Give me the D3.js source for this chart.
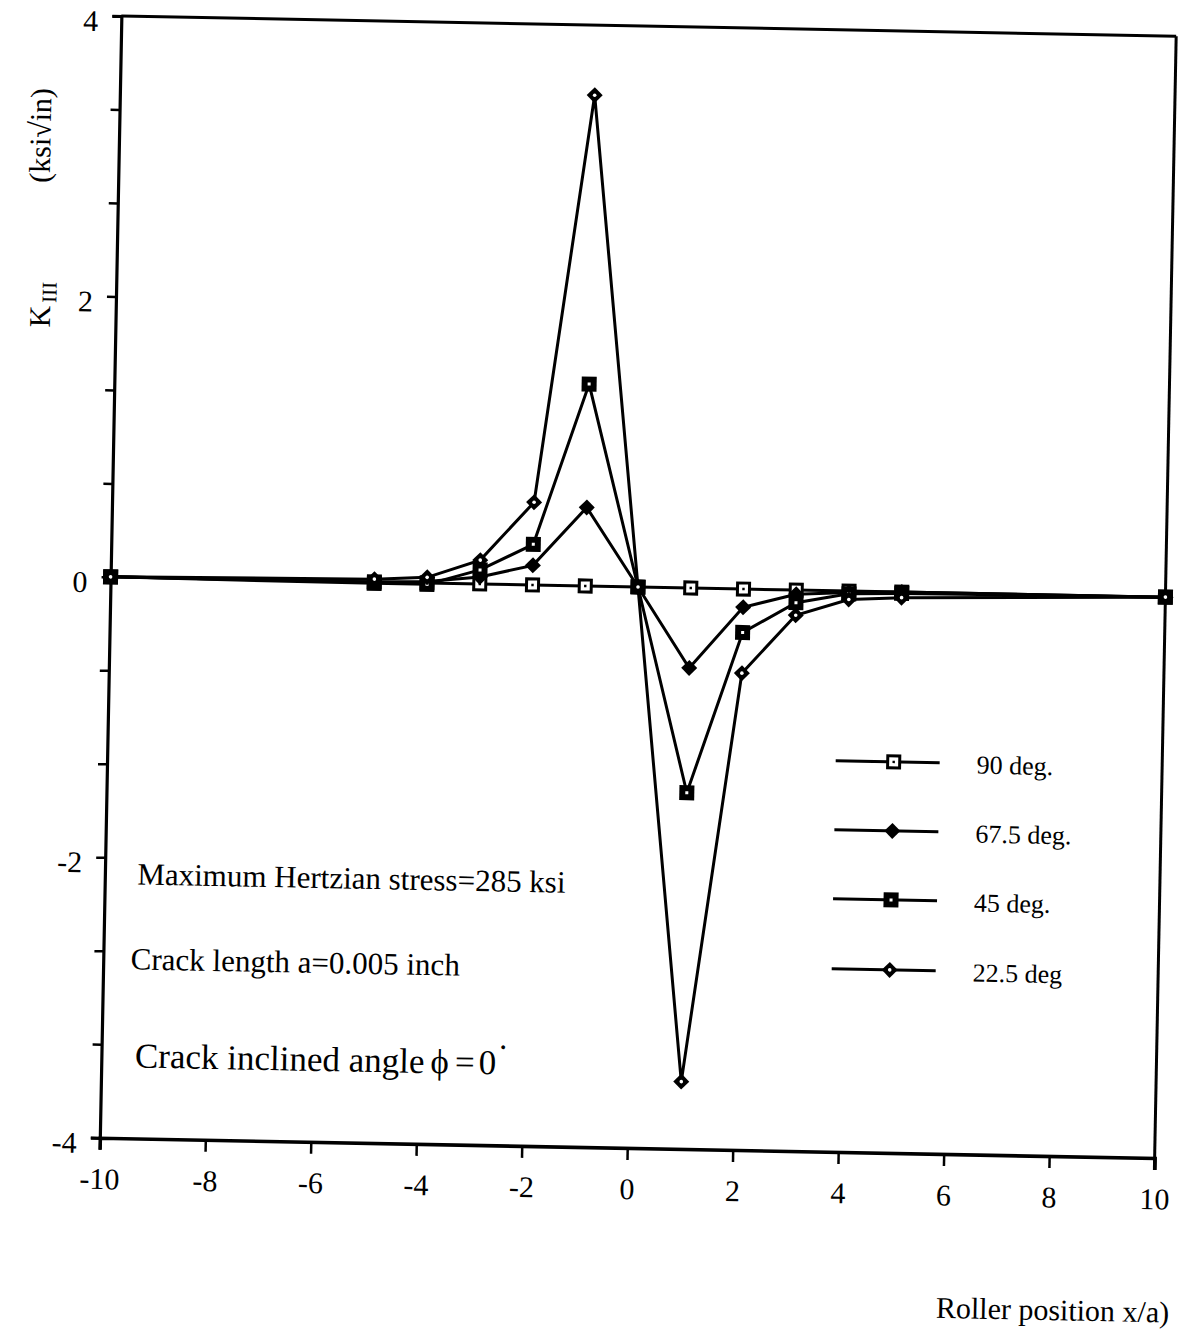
<!DOCTYPE html>
<html>
<head>
<meta charset="utf-8">
<script src="https://cdn.jsdelivr.net/npm/d3@7"></script>
<style>
  html, body { margin: 0; padding: 0; background: #fff; }
  svg { display: block; }
  text { font-family: "Liberation Serif", "DejaVu Serif", serif; fill: #000; }
</style>
</head>
<body>
<svg id="chart" width="1187" height="1331"></svg>
<script>
// ---- data ----
const xPositions = [-10, -5, -4, -3, -2, -1, 0, 1, 2, 3, 4, 5, 10];
const k90  = [0, 0, 0, 0, 0, 0, 0, 0, 0, 0, 0, 0, 0];
const k675 = [0, 0, 0.01, 0.05, 0.14, 0.56, 0, -0.57, -0.13, -0.03, -0.01, 0, 0];
const k45  = [0, -0.01, -0.01, 0.10, 0.29, 1.44, 0, -1.46, -0.31, -0.09, -0.02, -0.01, 0];
const k225 = [0, 0.02, 0.04, 0.17, 0.59, 3.50, 0, -3.52, -0.60, -0.18, -0.06, -0.04, 0];
const seriesNames = ["90 deg.", "67.5 deg.", "45 deg.", "22.5 deg"];
const seriesMarkers = ["openSquare", "filledDiamond", "filledSquare", "dotDiamond"];
const xTicks = [-10, -8, -6, -4, -2, 0, 2, 4, 6, 8, 10];
const yLabelTicks = [4, 2, 0, -2, -4];
const yMinorStep = 2 / 3;
const notes = ["Maximum Hertzian stress=285 ksi", "Crack length a=0.005 inch", "Crack inclined angle"];

const seriesValues = [k90, k675, k45, k225];

// ---- layout ----
const L = 110.5, R = 1165.5, T = 26, B = 1148;
const svg = d3.select("#chart");
const g = svg.append("g").attr("transform", "rotate(1.1, 638, 587)");

const x = d3.scaleLinear().domain([-10, 10]).range([L, R]);
const y = d3.scaleLinear().domain([-4, 4]).range([B, T]);

// frame: top and right borders
g.append("line").attr("x1", L).attr("x2", R).attr("y1", T).attr("y2", T)
  .attr("stroke", "#000").attr("stroke-width", 3);
g.append("line").attr("x1", R).attr("x2", R).attr("y1", T).attr("y2", B + 12)
  .attr("stroke", "#000").attr("stroke-width", 3);

// y axis
const yTickVals = d3.range(0, 13).map(i => 4 - i * yMinorStep);
const yAxis = d3.axisLeft(y).tickValues(yTickVals).tickSize(9).tickPadding(14)
  .tickFormat(d => {
    const m = yLabelTicks.find(v => Math.abs(v - d) < 1e-6);
    return m === undefined ? "" : String(m);
  });
const gy = g.append("g").attr("transform", `translate(${L},0)`).call(yAxis);
gy.select(".domain").attr("stroke-width", 3.2);
gy.selectAll(".tick line").attr("stroke-width", 2.5);
gy.selectAll("text").style("font-size", "30px").attr("font-family", "Liberation Serif")
  .attr("dy", "0.5em");

// x axis
const xAxis = d3.axisBottom(x).tickValues(xTicks).tickSize(12).tickPadding(18)
  .tickFormat(d => String(d));
const gx = g.append("g").attr("transform", `translate(0,${B})`).call(xAxis);
gx.select(".domain").attr("stroke-width", 3.6);
gx.selectAll(".tick line").attr("stroke-width", 2.5);
gx.selectAll("text").style("font-size", "30px").attr("font-family", "Liberation Serif");

// series
const line = d3.line().x((d, i) => x(xPositions[i])).y(d => y(d));

function drawMarker(sel, type) {
  if (type === "openSquare") {
    sel.append("rect").attr("x", -6).attr("y", -6).attr("width", 12).attr("height", 12)
      .attr("fill", "#fff").attr("stroke", "#000").attr("stroke-width", 3);
    sel.append("rect").attr("x", -1.2).attr("y", -1.2).attr("width", 2.4).attr("height", 2.4).attr("fill", "#000");
  } else if (type === "filledDiamond") {
    sel.append("path").attr("d", "M0,-8L8,0L0,8L-8,0Z").attr("fill", "#000");
  } else if (type === "filledSquare") {
    sel.append("rect").attr("x", -7.5).attr("y", -7.5).attr("width", 15).attr("height", 15).attr("fill", "#000");
    sel.append("rect").attr("x", -1.5).attr("y", -1.5).attr("width", 3).attr("height", 3).attr("fill", "#fff");
  } else {
    sel.append("path").attr("d", "M0,-8L8,0L0,8L-8,0Z").attr("fill", "#000");
    sel.append("circle").attr("r", 1.8).attr("fill", "#fff");
  }
}

seriesValues.forEach((vals) => {
  g.append("path").datum(vals).attr("d", line)
    .attr("fill", "none").attr("stroke", "#000").attr("stroke-width", 3)
    .attr("stroke-linejoin", "miter");
});
seriesValues.forEach((vals, si) => {
  vals.forEach((v, i) => {
    const m = g.append("g").attr("transform", `translate(${x(xPositions[i])},${y(v)})`);
    drawMarker(m, seriesMarkers[si]);
  });
});

// legend
const legendRows = [757, 826, 895, 965];
seriesNames.forEach((name, i) => {
  const ly = legendRows[i];
  g.append("line").attr("x1", 839).attr("x2", 943).attr("y1", ly).attr("y2", ly)
    .attr("stroke", "#000").attr("stroke-width", 3);
  const m = g.append("g").attr("transform", `translate(897,${ly})`);
  drawMarker(m, seriesMarkers[i]);
  g.append("text").attr("x", 980).attr("y", ly + 10).style("font-size", "26px").text(name);
});

// annotations
g.append("text").attr("x", 143).attr("y", 894).style("font-size", "31px").text(notes[0]);
g.append("text").attr("x", 138).attr("y", 979).style("font-size", "31px").text(notes[1]);
const t3 = g.append("text").attr("x", 144).attr("y", 1077).style("font-size", "35px");
t3.append("tspan").text(notes[2]);
t3.append("tspan").attr("dx", 6).text("\u03d5");
t3.append("tspan").attr("dx", 6).text("=");
t3.append("tspan").attr("dx", 4).text("0");
t3.append("tspan").attr("dx", 4).attr("dy", -22).style("font-size", "16px").text("\u2022");

// axis titles
const yt1 = g.append("text").attr("transform", "translate(45,316) rotate(-90)")
  .attr("text-anchor", "middle").style("font-size", "30px");
yt1.append("tspan").text("K");
yt1.append("tspan").attr("dx", 3).attr("dy", 6).style("font-size", "21px").text("III");
g.append("text").attr("transform", "translate(42,147) rotate(-90)")
  .attr("text-anchor", "middle").style("font-size", "30px").text("(ksi\u221ain)");
g.append("text").attr("x", 1183).attr("y", 1312).attr("text-anchor", "end")
  .style("font-size", "30px").text("Roller position x/a)");
</script>
</body>
</html>
